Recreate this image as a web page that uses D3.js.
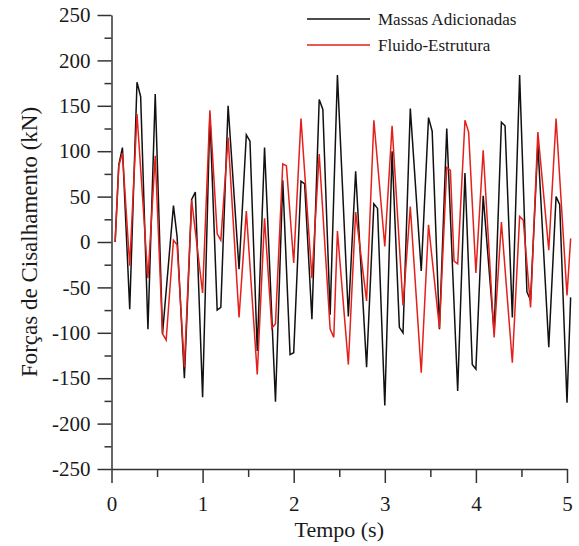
<!doctype html>
<html lang="pt">
<head>
<meta charset="utf-8">
<title>Forças de Cisalhamento</title>
<script src="https://cdn.jsdelivr.net/npm/d3@7"></script>
<style>
  body { margin: 0; background: #fff; }
  svg text { font-family: "Liberation Serif", "Times New Roman", serif; fill: #1a1a1a; }
  .axis path, .axis line { stroke: #333; stroke-width: 1.5px; }
  .series { fill: none; stroke-width: 1.5px; stroke-linejoin: miter; }
</style>
</head>
<body>
<svg width="579" height="546"></svg>
<script>

// Massas Adicionadas (black) - vertices
var tempoMassas = [0.04, 0.08, 0.12, 0.2, 0.28, 0.32, 0.4, 0.48, 0.56, 0.68, 0.72, 0.8, 0.88, 0.92,
  1.0, 1.08, 1.16, 1.2, 1.28, 1.4, 1.48, 1.52, 1.6, 1.68, 1.8, 1.88, 1.96,
  2.0, 2.08, 2.12, 2.2, 2.28, 2.32, 2.4, 2.48, 2.6, 2.68, 2.8, 2.88, 2.92,
  3.0, 3.08, 3.16, 3.2, 3.28, 3.4, 3.48, 3.52, 3.6, 3.68, 3.8, 3.88, 3.96,
  4.0, 4.08, 4.2, 4.28, 4.32, 4.4, 4.48, 4.56, 4.6, 4.68, 4.8, 4.88, 4.92, 5.0, 5.04];
var forcaMassas = [0, 85, 104, -74, 176, 160, -96, 163, -101, 40, 6, -150, 47, 55,
  -171, 140, -75, -72, 150, -30, 118, 111, -120, 104, -176, 68, -124,
  -122, 67, 64, -85, 157, 146, -80, 184, -82, 78, -138, 42, 37,
  -180, 100, -94, -100, 147, -32, 137, 122, -96, 125, -164, 76, -135,
  -140, 51, -100, 132, 128, -83, 184, -55, -64, 108, -116, 50, 41, -177, -61];

// Fluido-Estrutura (red)
var tempoFluido = [0.04, 0.08, 0.12, 0.2, 0.28, 0.4, 0.48, 0.56, 0.6, 0.68, 0.72, 0.8, 0.88,
  1.0, 1.08, 1.16, 1.2, 1.28, 1.4, 1.48, 1.6, 1.68, 1.76, 1.8, 1.88, 1.92,
  2.0, 2.08, 2.2, 2.28, 2.4, 2.44, 2.48, 2.6, 2.68, 2.8, 2.88,
  3.0, 3.08, 3.2, 3.28, 3.4, 3.48, 3.6, 3.68, 3.72, 3.76, 3.8, 3.88, 3.92,
  4.0, 4.08, 4.2, 4.28, 4.4, 4.48, 4.52, 4.6, 4.68, 4.8, 4.88, 5.0, 5.04];
var forcaFluido = [0, 84, 98, -26, 141, -40, 95, -101, -108, 2, -3, -138, 46,
  -56, 145, 9, 2, 115, -83, 34, -146, 26, -95, -90, 86, 84,
  -23, 136, -40, 97, -96, -105, 12, -135, 33, -65, 134,
  -5, 128, -70, 39, -144, 19, -95, 82, 79, -21, -24, 134, 121,
  -34, 101, -105, 22, -133, 28, 24, -72, 121, -9, 136, -59, 4];

var xMajor = [0, 1, 2, 3, 4, 5];
var xMinor = [0.5, 1.5, 2.5, 3.5, 4.5];
var yMajor = [-250, -200, -150, -100, -50, 0, 50, 100, 150, 200, 250];
var yMinor = [-225, -175, -125, -75, -25, 25, 75, 125, 175, 225];

var svg = d3.select("svg");

var x = d3.scaleLinear().domain([0, 5]).range([111.5, 567]);
var y = d3.scaleLinear().domain([-250, 250]).range([469, 15]);

// minor ticks first, then the major axes on top
svg.append("g").attr("class", "axis")
  .attr("transform", "translate(0," + y(-250) + ")")
  .call(d3.axisBottom(x).tickValues(xMinor).tickSize(8).tickSizeOuter(0).tickFormat(""))
  .select(".domain").remove();

svg.append("g").attr("class", "axis")
  .attr("transform", "translate(" + x(0) + ",0)")
  .call(d3.axisLeft(y).tickValues(yMinor).tickSize(7).tickSizeOuter(0).tickFormat(""))
  .select(".domain").remove();

var xAxis = svg.append("g").attr("class", "axis")
  .attr("transform", "translate(0," + y(-250) + ")")
  .call(d3.axisBottom(x).tickValues(xMajor).tickSize(14).tickSizeOuter(0).tickPadding(13).tickFormat(d3.format("d")));
xAxis.selectAll("text").style("font-size", "21px");

var yAxis = svg.append("g").attr("class", "axis")
  .attr("transform", "translate(" + x(0) + ",0)")
  .call(d3.axisLeft(y).tickValues(yMajor).tickSize(14).tickSizeOuter(0).tickPadding(7).tickFormat(function (d) { return String(d); }));
yAxis.selectAll("text").style("font-size", "21px");

// axis titles
svg.append("text")
  .attr("x", (x(0) + x(5)) / 2)
  .attr("y", 537)
  .attr("text-anchor", "middle")
  .style("font-size", "22px")
  .text("Tempo (s)");

svg.append("text")
  .attr("transform", "translate(37," + y(0) + ") rotate(-90)")
  .attr("text-anchor", "middle")
  .style("font-size", "23px")
  .text("Forças de Cisalhamento (kN)");

// series
var line = d3.line()
  .x(function (d) { return x(d[0]); })
  .y(function (d) { return y(d[1]); });

var series = [
  { name: "Massas Adicionadas", color: "#111111", t: tempoMassas, v: forcaMassas },
  { name: "Fluido-Estrutura", color: "#e3201b", t: tempoFluido, v: forcaFluido }
];

series.forEach(function (s) {
  svg.append("path")
    .attr("class", "series")
    .attr("stroke", s.color)
    .attr("d", line(d3.zip(s.t, s.v)));
});

// legend
var legend = svg.append("g").attr("transform", "translate(307,19)");
series.forEach(function (s, i) {
  legend.append("line")
    .attr("x1", 0).attr("x2", 63)
    .attr("y1", i * 26).attr("y2", i * 26)
    .attr("stroke", s.color)
    .attr("stroke-width", 1.5);
  legend.append("text")
    .attr("x", 71)
    .attr("y", i * 26 + 6)
    .style("font-size", "17px")
    .text(s.name);
});

</script>
</body>
</html>
